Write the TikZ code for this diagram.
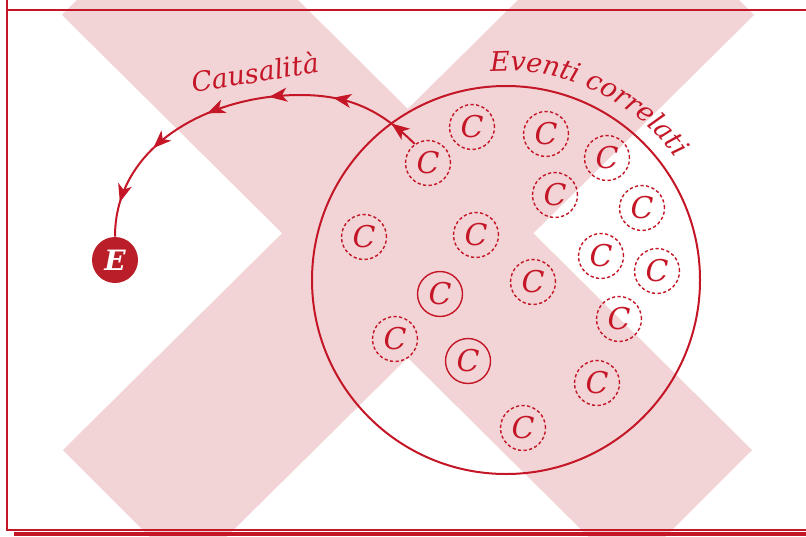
\documentclass[tikz,border=0pt]{standalone}
\usepackage{fontspec}
\setmainfont{DejaVu Serif}
\usetikzlibrary{arrows.meta,decorations.markings,decorations.text}
\definecolor{evred}{RGB}{196,22,38}
\definecolor{epink}{RGB}{242,212,214}
\definecolor{edark}{RGB}{186,30,40}
\begin{document}
\begin{tikzpicture}[x=0.5pt,y=0.5pt,
    cnode/.style={circle,draw=evred,text=evred,line width=0.7pt,dash pattern=on 1.6pt off 1.2pt,
      minimum size=22.5pt,inner sep=0pt,font=\fontsize{15}{18}\selectfont\itshape},
    csolid/.style={cnode,solid},
    enode/.style={circle,fill=edark,text=white,minimum size=23pt,inner sep=0pt,
      font=\fontsize{14}{17}\selectfont\bfseries\itshape},
    bigc/.style={circle,draw=evred,line width=1pt,minimum size=194pt,inner sep=0pt},
    causal/.style={evred,line width=1pt,postaction={decorate},
      decoration={markings,mark=between positions 0.08 and 0.91 step 0.166
        with {\arrow{Stealth[length=9pt,width=7pt,inset=2.5pt]}}}}]
  \useasboundingbox (0,0) rectangle (806,536);
  \begin{scope}
    \clip (0,0) rectangle (806,536);
    \fill[epink] (62,521) -- (187,646) -- (752,86) -- (627,-39) -- cycle;
    \fill[epink] (63,86) -- (629,646) -- (754,521) -- (188,-39) -- cycle;
  \end{scope}
  \draw[evred,line width=1pt] (7,536) -- (7,6) -- (806,6);
  \draw[evred,line width=1pt] (7,526) -- (806,526);
  \fill[evred] (14,0) rectangle (806,4);
  \node[bigc] (ev) at (506,256) {};
  \node[enode] (e) at (115,276) {E};
  \draw
    (428,373) node[cnode] (c1){C}
    (472,409) node[cnode] (c2){C}
    (546,402) node[cnode] (c3){C}
    (607,378) node[cnode] (c4){C}
    (555,341) node[cnode] (c5){C}
    (642,328) node[cnode] (c6){C}
    (364,299) node[cnode] (c7){C}
    (476,301) node[cnode] (c8){C}
    (601,280) node[cnode] (c9){C}
    (657,265) node[cnode] (c10){C}
    (533,254) node[cnode] (c11){C}
    (440,242) node[csolid] (c12){C}
    (619,217) node[cnode] (c13){C}
    (395,197) node[cnode] (c14){C}
    (468,175) node[csolid] (c15){C}
    (597,153) node[cnode] (c16){C}
    (523,108) node[cnode] (c17){C};
  \coordinate (top) at (300,441);
  \draw[causal] (c1.125) to[out=135,in=0] (top) to[out=180,in=90] (e.north);
  \node[evred,rotate=9,font=\fontsize{13.5}{16}\selectfont\itshape] (cl) at (255,464) {Causalità};
  \path[decorate,decoration={text along path,text align=center,
      text={|\fontsize{13.5}{16}\selectfont\itshape\color{evred}|Eventi correlati}}]
    (ev.center) ++(97:209) arc[start angle=97,end angle=33,radius=209];
\end{tikzpicture}
\end{document}
